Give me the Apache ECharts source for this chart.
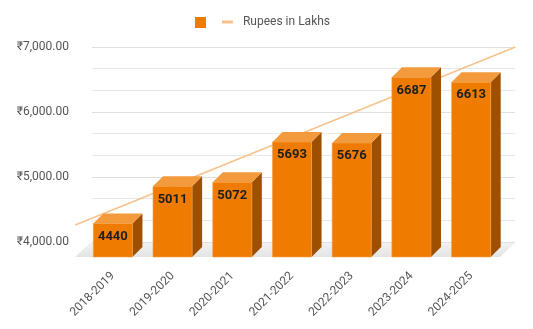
<!DOCTYPE html>
<html><head><meta charset="utf-8">
<script src="https://cdn.jsdelivr.net/npm/echarts@6/dist/echarts.min.js"></script>
<style>html,body{margin:0;padding:0;background:#fff}#c{width:533px;height:329px}</style>
</head><body><div id="c"></div>
<script>
var categories = ['2018-2019','2019-2020','2020-2021','2021-2022','2022-2023','2023-2024','2024-2025'];
var values = [4440, 5011, 5072, 5693, 5676, 6687, 6613];
var trendX = [-0.63, 6.74];
var trendY = [4262, 7000];
var yTicks = [4000, 5000, 6000, 7000];

var chart = echarts.init(document.getElementById('c'), null, {renderer:'canvas'});
var FONT = 'Roboto, "Noto Sans", Arial, sans-serif';
var D = 10;

function renderBar(params, api) {
  var i = api.value(0), v = api.value(1);
  var p = api.coord([i, v]);
  var base = api.coord([i, yTicks[0]]);
  var bw = api.size([1, 0])[0] * 0.655;
  var hw = bw / 2;
  var x = p[0];
  var top = p[1] + D;
  var bottom = base[1] + 15;
  return {
    type: 'group',
    children: [
      {type:'polygon', shape:{points:[[x+hw,top],[x+hw+D,top-D],[x+hw+D,bottom-D],[x+hw,bottom]]}, style:{fill:'#9E5000'}},
      {type:'polygon', shape:{points:[[x-hw,top],[x-hw+D,top-D],[x+hw+D,top-D],[x+hw,top]]}, style:{fill:'#F29A3C'}},
      {type:'rect', shape:{x:x-hw, y:top, width:bw, height:bottom-top}, style:{fill:'#EF7C00', stroke:'#F3A04A', lineWidth:0.6}},
      {type:'text', x:x, y:top+13, style:{text:String(v), fill:'#1e1e1e', font:'bold 13px ' + FONT, align:'center', verticalAlign:'middle'}}
    ]
  };
}

function renderTrend(params, api) {
  var a = api.coord([api.value(0), api.value(1)]);
  var b = api.coord([api.value(2), api.value(3)]);
  return {type:'line', shape:{x1:a[0], y1:a[1], x2:b[0], y2:b[1]},
          style:{stroke:'#F9C18A', lineWidth:1.5}};
}

var option = {
  animation: false,
  backgroundColor: '#fff',
  legend: [
    {data:['Value'], left:195, top:17, padding:0, itemWidth:11, itemHeight:11, icon:'rect',
     formatter:function(){return '';}, selectedMode:false, itemGap:0},
    {data:[{name:'Rupees in Lakhs', icon:'path://M0,0h11v3h-11z M15.99,3h0.01v0.01h-0.01z', itemStyle:{color:'#F9C18A'}}],
     left:222, top:16, padding:0, itemWidth:16, itemHeight:3, selectedMode:false,
     textStyle:{color:'#555', fontSize:12, fontFamily:FONT}}
  ],
  graphic: [
    {type:'polygon', z:-1, silent:true, shape:{points:[[90,243],[515,243],[500,257],[75,257]]},
     style:{fill:new echarts.graphic.LinearGradient(0,0,0,1,[{offset:0,color:'#f2f2f2'},{offset:1,color:'#e4e4e4'}])}}
  ],
  grid: [
    {left:83, right:32, top:47, bottom:87},
    {left:92, right:18, top:47, bottom:87}
  ],
  xAxis: [
    {type:'category', gridIndex:0, data:categories, axisLine:{show:false}, axisTick:{show:false},
     axisLabel:{rotate:45, margin:32, color:'#555', fontSize:12, fontFamily:FONT, interval:0}},
    {type:'category', gridIndex:1, data:categories, show:false},
    {type:'value', gridIndex:0, min:-0.5, max:6.5, show:false}
  ],
  yAxis: [
    {type:'value', gridIndex:0, min:4000, max:7000, interval:1000, show:false, splitLine:{show:false}},
    {type:'value', gridIndex:1, min:4000, max:7000, interval:1000,
     axisLine:{show:false}, axisTick:{show:false},
     axisLabel:{margin:23, color:'#555', fontSize:12, fontFamily:FONT,
       formatter:function(v){return '\u20B9' + v.toLocaleString('en-US') + '.00';}},
     splitLine:{lineStyle:{color:'#e0e0e0', width:1}},
     minorTick:{show:false, splitNumber:3},
     minorSplitLine:{show:true, lineStyle:{color:'#e8e8e8', width:1}}}
  ],
  series: [
    {name:'Rupees in Lakhs', type:'custom', xAxisIndex:2, yAxisIndex:0, clip:false, z:2,
     itemStyle:{color:'#F9C18A'}, renderItem:renderTrend,
     encode:{x:[0,2], y:[1,3]},
     data:[[trendX[0], trendY[0], trendX[1], trendY[1]]]},
    {name:'Value', type:'custom', xAxisIndex:0, yAxisIndex:0, clip:false, z:3,
     itemStyle:{color:'#EF7C00'}, renderItem:renderBar,
     data: values.map(function(v,i){return [i, v];})}
  ]
};
chart.setOption(option);
</script></body></html>
